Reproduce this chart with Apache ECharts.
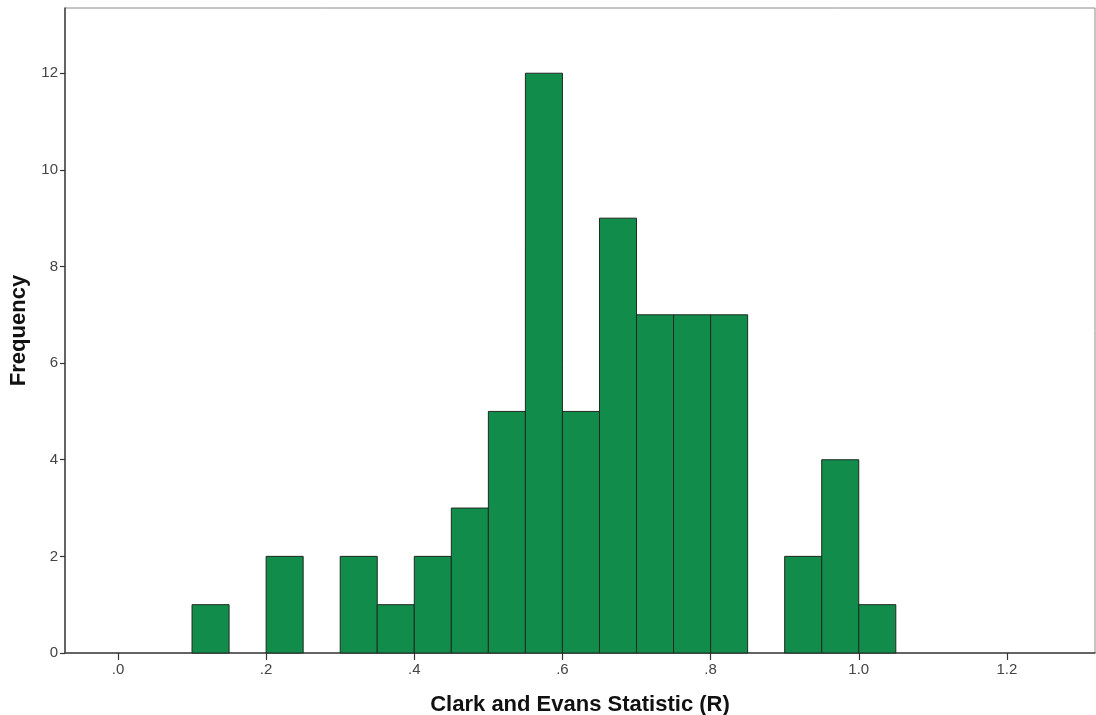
<!DOCTYPE html>
<html>
<head>
<meta charset="utf-8">
<script src="https://cdn.jsdelivr.net/npm/echarts@6/dist/echarts.min.js"></script>
<style>
html,body{margin:0;padding:0;background:#fff;}
#chart{width:1096px;height:715px;}
</style>
</head>
<body>
<div id="chart"></div>
<script>
// Histogram bins (start of each bin), bin width 0.05
var binStarts = [0.10, 0.15, 0.20, 0.25, 0.30, 0.35, 0.40, 0.45, 0.50, 0.55, 0.60, 0.65, 0.70, 0.75, 0.80, 0.85, 0.90, 0.95, 1.00];
var counts    = [1,    0,    2,    0,    2,    1,    2,    3,    5,    12,   5,    9,    7,    7,    7,    0,    2,    4,    1];
var binWidth = 0.05;
var xTickValues = [0, 0.2, 0.4, 0.6, 0.8, 1.0, 1.2];
var xTickLabels = ['.0', '.2', '.4', '.6', '.8', '1.0', '1.2'];
var yTickValues = [0, 2, 4, 6, 8, 10, 12];

var data = [];
for (var i = 0; i < binStarts.length; i++) {
  if (counts[i] > 0) data.push([binStarts[i], binStarts[i] + binWidth, counts[i]]);
}

var font = 'Liberation Sans, Arial, sans-serif';
var chart = echarts.init(document.getElementById('chart'), null, {renderer: 'canvas'});
chart.setOption({
  animation: false,
  backgroundColor: '#ffffff',
  grid: {left: 65, right: 1, top: 8, bottom: 62, containLabel: false, outerBoundsMode: 'none',
         show: true, borderColor: '#8a8a8a', borderWidth: 1, backgroundColor: 'transparent'},
  xAxis: {
    type: 'value',
    min: -0.0715,
    max: 1.3189,
    name: 'Clark and Evans Statistic (R)',
    nameLocation: 'middle',
    nameGap: 41,
    nameTextStyle: {fontFamily: font, fontSize: 22, fontWeight: 'bold', color: '#111'},
    axisLine: {show: true, onZero: false, lineStyle: {color: '#444', width: 1.5}},
    axisTick: {show: true, customValues: xTickValues, length: 7, lineStyle: {color: '#333', width: 1.2}},
    axisLabel: {
      customValues: xTickValues,
      fontFamily: font, fontSize: 15, color: '#444', margin: 9,
      formatter: function (v) {
        for (var k = 0; k < xTickValues.length; k++) if (Math.abs(xTickValues[k] - v) < 1e-6) return xTickLabels[k];
        return '';
      }
    },
    splitLine: {show: false}
  },
  yAxis: {
    type: 'value',
    min: 0,
    max: 13.35,
    name: 'Frequency',
    nameLocation: 'middle',
    nameGap: 33,
    nameTextStyle: {fontFamily: font, fontSize: 22, fontWeight: 'bold', color: '#111'},
    axisLine: {show: true, onZero: false, lineStyle: {color: '#444', width: 1.5}},
    axisTick: {show: true, customValues: yTickValues, length: 5, lineStyle: {color: '#333', width: 1.2}},
    axisLabel: {customValues: yTickValues, fontFamily: font, fontSize: 15, color: '#444', margin: 7},
    splitLine: {show: false}
  },
  series: [{
    type: 'custom',
    data: data,
    encode: {x: [0, 1], y: 2},
    renderItem: function (params, api) {
      var p0 = api.coord([api.value(0), 0]);
      var p1 = api.coord([api.value(1), api.value(2)]);
      return {
        type: 'rect',
        shape: {x: p0[0], y: p1[1], width: p1[0] - p0[0], height: p0[1] - p1[1]},
        style: {fill: '#128c4a', stroke: '#1e2a22', lineWidth: 1}
      };
    }
  }]
});
</script>
</body>
</html>
